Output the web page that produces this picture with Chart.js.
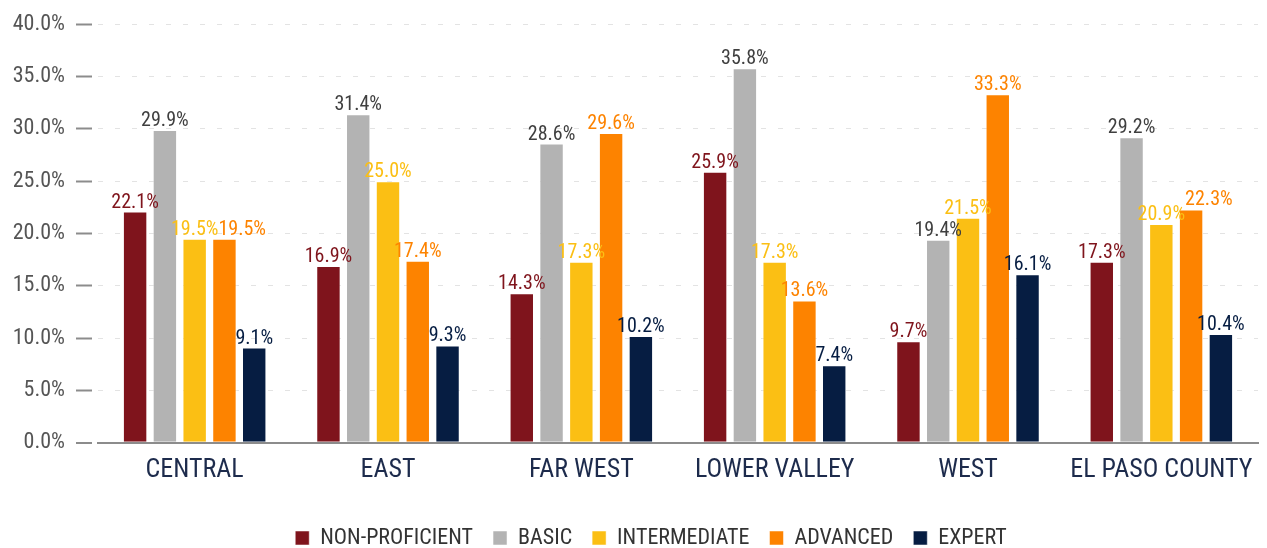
<!DOCTYPE html>
<html>
<head>
<meta charset="utf-8">
<script src="https://cdn.jsdelivr.net/npm/chart.js@4.4.1/dist/chart.umd.min.js"></script>
<style>
  html, body { margin: 0; padding: 0; background: #ffffff; }
  #wrap { width: 1267px; height: 548px; position: relative; }
</style>
</head>
<body>
<div id="wrap"><canvas id="c"></canvas></div>
<script>
const categories = ["CENTRAL", "EAST", "FAR WEST", "LOWER VALLEY", "WEST", "EL PASO COUNTY"];
const seriesNames = ["NON-PROFICIENT", "BASIC", "INTERMEDIATE", "ADVANCED", "EXPERT"];
const nonProficient = [22.1, 16.9, 14.3, 25.9, 9.7, 17.3];
const basic = [29.9, 31.4, 28.6, 35.8, 19.4, 29.2];
const intermediate = [19.5, 25.0, 17.3, 17.3, 21.5, 20.9];
const advanced = [19.5, 17.4, 29.6, 13.6, 33.3, 22.3];
const expert = [9.1, 9.3, 10.2, 7.4, 16.1, 10.4];
const yTicks = [0, 5, 10, 15, 20, 25, 30, 35, 40];

const barColors = ["#7f141c", "#b3b3b3", "#fbbf14", "#fd8300", "#061d42"];
const labelColors = ["#7f141c", "#3f3f3f", "#fbbf14", "#fd8300", "#061d42"];
const FONT = "'Roboto Condensed', Roboto, 'Liberation Sans', sans-serif";

const seriesValues = [nonProficient, basic, intermediate, advanced, expert];

const valueLabels = {
  id: 'valueLabels',
  afterDatasetsDraw(chart) {
    const ctx = chart.ctx;
    ctx.save();
    ctx.font = "20px " + FONT;
    ctx.textAlign = 'left';
    ctx.textBaseline = 'bottom';
    const n = chart.data.labels.length;
    for (let j = 0; j < n; j++) {
      const boxes = [];
      chart.data.datasets.forEach((ds, i) => {
        const meta = chart.getDatasetMeta(i);
        if (meta.hidden) return;
        const el = meta.data[j];
        const txt = ds.data[j].toFixed(1) + '%';
        const w = ctx.measureText(txt).width;
        let x0 = el.x - w / 2;
        const yb = el.y + 1, yt = yb - 18;
        boxes.forEach(b => {
          if (yb > b.yt && yt < b.yb && x0 < b.x1 && x0 + w > b.x0) x0 = b.x1;
        });
        ctx.fillStyle = labelColors[i];
        ctx.fillText(txt, x0, yb);
        boxes.push({ x0: x0, x1: x0 + w, yt: yt, yb: yb });
      });
    }
    ctx.restore();
  }
};

const legendShift = {
  id: 'legendShift',
  afterLayout(chart) {
    if (chart.legend) {
      chart.legend.left += 22;
      chart.legend.right += 22;
    }
  }
};

new Chart(document.getElementById('c'), {
  type: 'bar',
  data: {
    labels: categories,
    datasets: seriesNames.map((n, i) => ({
      label: n,
      data: seriesValues[i],
      backgroundColor: barColors[i],
      borderColor: 'rgba(255,255,255,0.5)',
      borderWidth: 1,
      categoryPercentage: 0.77,
      barPercentage: 0.82
    }))
  },
  options: {
    responsive: true,
    maintainAspectRatio: false,
    animation: false,
    layout: { padding: { top: 10, right: 9, left: 0, bottom: -11 } },
    plugins: {
      legend: {
        position: 'bottom',
        labels: {
          font: { family: FONT, size: 22 },
          color: '#333333',
          boxWidth: 14,
          boxHeight: 14,
          padding: 20
        }
      },
      tooltip: { enabled: false }
    },
    scales: {
      x: {
        grid: { display: false },
        border: { display: true, color: '#8c8c8c', width: 2 },
        afterFit(scale) { scale.height += 17; },
        ticks: { font: { family: FONT, size: 26 }, color: '#1d2b4c', padding: 4 }
      },
      y: {
        min: 0, max: 40,
        afterFit(scale) { scale.width = 98; },
        afterBuildTicks(scale) { scale.ticks = yTicks.map(v => ({ value: v })); },
        grid: {
          color: (c) => c.tick && c.tick.value === 0 ? '#8c8c8c' : '#e3e3e3',
          lineWidth: (c) => c.tick && c.tick.value === 0 ? 2 : 1,
          tickLength: 22,
          tickColor: '#8c8c8c',
          tickWidth: 2,
          tickBorderDash: [16, 100]
        },
        border: { display: false, dash: [5, 12] },
        ticks: {
          font: { family: FONT, size: 22 },
          color: '#555555',
          padding: 11,
          callback: (v) => v.toFixed(1) + '%'
        }
      }
    }
  },
  plugins: [valueLabels, legendShift]
});
</script>
</body>
</html>
